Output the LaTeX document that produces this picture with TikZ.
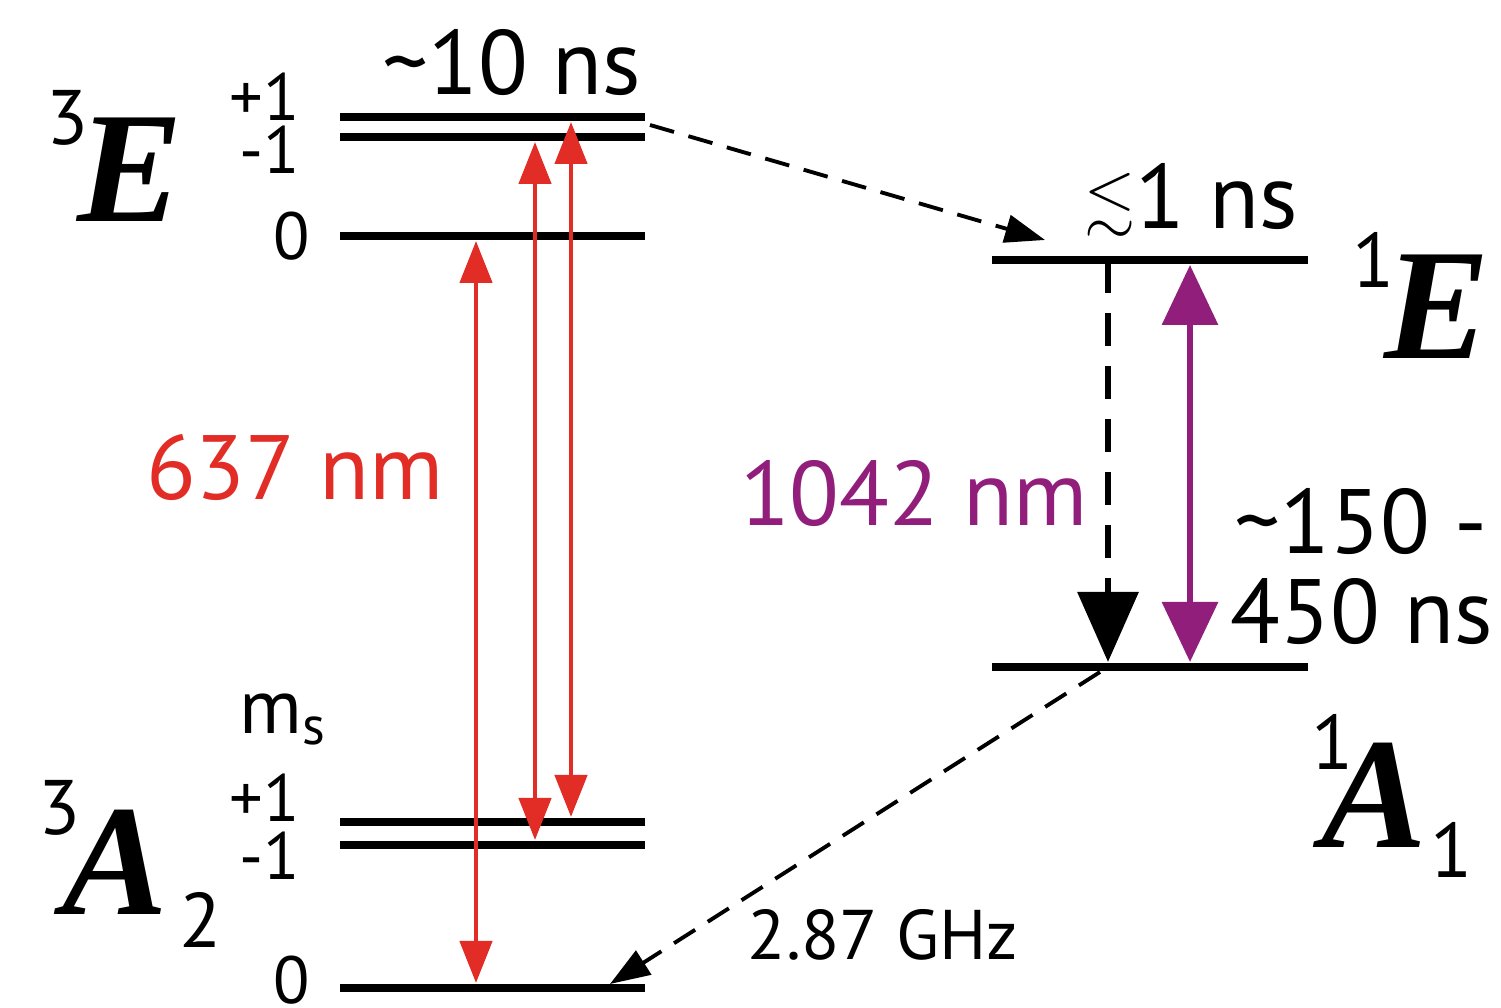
\documentclass[tikz,border=0pt]{standalone}
\usepackage{amssymb}
\usepackage{fontspec}
\setmainfont{PT Sans}
\newfontfamily\termfont{Liberation Serif}
\usetikzlibrary{arrows.meta}

\definecolor{laserred}{RGB}{226,45,38}
\definecolor{irpurple}{RGB}{145,30,122}

\tikzset{
    level/.style={line width=2.5pt},
    redarr/.style={laserred, line width=1.3pt,
        {Triangle[length=0.42cm,width=0.32cm]}-{Triangle[length=0.42cm,width=0.32cm]}},
    purplearr/.style={irpurple, line width=1.8pt,
        {Triangle[length=0.6cm,width=0.55cm]}-{Triangle[length=0.6cm,width=0.55cm]}},
    isc/.style={line width=1.1pt, dash pattern=on 0.25cm off 0.15cm,
        -{Triangle[length=0.4cm,width=0.28cm]}},
    term/.style={font=\termfont\fontsize{45}{50}\selectfont\bfseries\itshape},
    termidx/.style={font=\fontsize{22}{26}\selectfont},
    msval/.style={font=\fontsize{19}{22}\selectfont, anchor=east},
    big/.style={font=\fontsize{26}{30}\selectfont}
}

\begin{document}
\begin{tikzpicture}
    \useasboundingbox (0,0) rectangle (15.01,10.08);

    % triplet levels
    \foreach \y/\nm in {8.91/Etp,8.71/Etm,7.72/Etz,1.86/Agp,1.63/Agm,0.20/Agz}{
        \draw[level] (3.40,\y) coordinate (\nm L) -- (6.45,\y) coordinate (\nm R);
    }
    % singlet levels
    \draw[level] (9.92,7.48) coordinate (EsL) -- (13.08,7.48) coordinate (EsR);
    \draw[level] (9.92,3.41) coordinate (AsL) -- (13.08,3.41) coordinate (AsR);

    % m_s labels
    \node[msval] (Etpv) at (3.12,9.11) {+1};
    \node[msval] (Etmv) at (3.12,8.58) {-1};
    \node[msval] (Etzv) at (3.22,7.72) {0};
    \node[font=\fontsize{22}{26}\selectfont] (ms) at (2.83,2.88) {m\textsubscript{s}};
    \node[msval] (Agpv) at (3.12,2.10) {+1};
    \node[msval] (Agmv) at (3.12,1.52) {-1};
    \node[msval] (Agzv) at (3.22,0.28) {0};

    % term symbols
    \node[termidx] (E3i) at (0.68,8.90) {3};
    \node[term] (E3) at (1.30,8.38) {E};
    \node[termidx] (E1i) at (13.74,7.48) {1};
    \node[term] (E1) at (14.37,7.01) {E};
    \node[termidx] (A3i) at (0.60,2.00) {3};
    \node[term] (A3) at (1.15,1.46) {A};
    \node[termidx] (A3s) at (2.01,0.88) {2};
    \node[termidx] (A1i) at (13.33,2.66) {1};
    \node[term] (A1) at (13.74,2.13) {A};
    \node[termidx] (A1s) at (14.52,1.58) {1};

    % lifetimes
    \node[big] (tE3) at (5.12,9.45) {\textasciitilde10 ns};
    \node[big] (tE1) at (11.91,8.08) {\raisebox{0.15ex}{\scalebox{0.72}{$\lesssim$}}1 ns};
    \node[big] (tA1a) at (13.61,4.86) {\textasciitilde150 -};
    \node[big] (tA1b) at (13.62,3.96) {450 ns};
    \node[font=\fontsize{20}{24}\selectfont] (mw) at (8.83,0.73) {2.87 GHz};

    % optical transitions
    \coordinate (r1a) at (4.76,0.25);  \coordinate (r1b) at (4.76,7.67);
    \coordinate (r2a) at (5.35,1.68);  \coordinate (r2b) at (5.35,8.66);
    \coordinate (r3a) at (5.71,1.91);  \coordinate (r3b) at (5.71,8.86);
    \draw[redarr] (r1a) -- (r1b);
    \draw[redarr] (r2a) -- (r2b);
    \draw[redarr] (r3a) -- (r3b);
    \node[big, laserred] (red) at (2.95,5.40) {637 nm};

    \coordinate (p1a) at (11.90,3.46); \coordinate (p1b) at (11.90,7.43);
    \draw[purplearr] (p1a) -- (p1b);
    \node[big, irpurple] (ir) at (9.14,5.14) {1042 nm};

    % non-radiative paths
    \coordinate (d1a) at (11.08,7.48); \coordinate (d1b) at (11.08,3.46);
    \draw[line width=1.8pt, dash pattern=on 0.33cm off 0.2cm,
        -{Triangle[length=0.7cm,width=0.6cm]}] (d1a) -- (d1b);
    \coordinate (ia) at (6.50,8.83);   \coordinate (ib) at (10.45,7.68);
    \draw[isc] (ia) -- (ib);
    \coordinate (ic) at (11.00,3.36);  \coordinate (id) at (6.10,0.24);
    \draw[isc] (ic) -- (id);
\end{tikzpicture}
\end{document}
